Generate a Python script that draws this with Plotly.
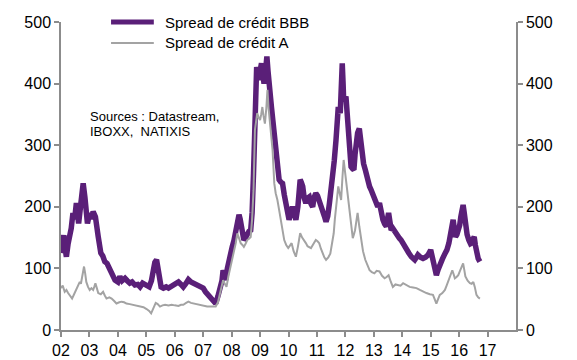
import plotly.graph_objects as go

years_bbb = [2002.00,2002.05,2002.10,2002.15,2002.19,2002.25,2002.30,2002.36,2002.42,2002.48,2002.54,2002.62,2002.70,2002.75,2002.78,2002.84,2002.93,
2003.01,2003.07,2003.13,2003.21,2003.31,2003.40,2003.47,2003.54,2003.62,2003.72,2003.80,2003.90,
2004.00,2004.07,2004.15,2004.25,2004.33,2004.42,2004.50,2004.60,2004.70,2004.78,2004.87,2004.95,
2005.03,2005.10,2005.18,2005.25,2005.30,2005.36,2005.40,2005.45,2005.52,2005.60,2005.70,2005.78,2005.87,2005.95,
2006.05,2006.13,2006.22,2006.30,2006.40,2006.48,2006.57,2006.66,2006.75,2006.84,2006.92,
2007.00,2007.08,2007.16,2007.25,2007.35,2007.44,2007.52,2007.61,2007.66,2007.70,2007.75,2007.79,2007.85,2007.90,2007.96,
2008.02,2008.08,2008.14,2008.20,2008.26,2008.30,2008.34,2008.43,2008.49,2008.55,2008.61,2008.67,2008.72,2008.77,2008.81,2008.85,2008.88,2008.92,2008.96,
2009.00,2009.05,2009.10,2009.14,2009.19,2009.24,2009.28,2009.32,2009.36,2009.40,2009.45,2009.50,2009.55,2009.59,2009.63,2009.67,2009.73,2009.79,2009.85,2009.91,2009.96,
2010.02,2010.08,2010.14,2010.20,2010.26,2010.33,2010.38,2010.41,2010.45,2010.50,2010.55,2010.61,2010.67,2010.73,2010.79,2010.85,2010.90,2010.96,
2011.02,2011.08,2011.14,2011.20,2011.26,2011.32,2011.38,2011.44,2011.50,2011.55,2011.61,2011.67,2011.71,2011.75,2011.82,2011.86,2011.89,2011.92,2011.94,2011.98,
2012.02,2012.05,2012.08,2012.14,2012.20,2012.25,2012.30,2012.34,2012.38,2012.43,2012.49,2012.53,2012.58,2012.64,2012.70,2012.77,2012.85,2012.90,2012.96,
2013.02,2013.08,2013.14,2013.20,2013.26,2013.32,2013.38,2013.44,2013.48,2013.52,2013.57,2013.61,2013.67,2013.73,2013.79,2013.84,2013.90,2013.96,
2014.05,2014.14,2014.23,2014.32,2014.38,2014.44,2014.50,2014.55,2014.64,2014.73,2014.82,2014.91,
2015.00,2015.04,2015.08,2015.14,2015.20,2015.26,2015.32,2015.41,2015.50,2015.57,2015.64,2015.71,2015.75,2015.79,2015.83,2015.87,2015.92,2015.97,
2016.02,2016.06,2016.10,2016.14,2016.18,2016.22,2016.28,2016.34,2016.40,2016.44,2016.49,2016.53,2016.57,2016.61,2016.67,2016.73]

spread_bbb = [125,150,154,130,119,140,149,165,190,180,206,173,206,225,238,216,173,
190,180,192,184,151,125,120,111,108,97,90,81,
78,87,80,84,80,76,78,73,74,70,76,73,
72,70,80,103,110,114,100,78,70,68,70,68,70,73,
76,78,74,70,76,82,78,76,74,73,70,
68,62,58,55,50,43,55,70,80,97,88,81,100,114,120,
135,145,162,170,187,180,168,146,150,157,160,162,190,254,362,400,427,415,406,
420,433,415,400,420,444,420,390,375,362,340,319,300,281,260,244,240,238,220,206,190,
179,190,200,190,179,200,230,244,240,233,215,206,214,216,205,200,215,222,
218,211,205,195,185,176,185,206,225,244,275,308,340,362,352,390,433,400,373,375,
379,360,330,295,265,262,260,285,308,320,327,310,287,270,260,245,233,228,222,
212,206,200,206,190,179,172,168,180,190,175,162,165,160,157,150,149,146,
138,130,125,119,116,114,118,122,118,116,118,122,
130,122,114,100,89,98,108,115,124,130,141,162,172,179,165,151,155,160,
170,184,195,203,190,168,155,146,140,141,148,151,138,124,116,111]

years_a = [2002.00,2002.06,2002.13,2002.19,2002.25,2002.32,2002.39,2002.46,2002.54,2002.60,2002.66,2002.70,2002.74,2002.78,2002.81,2002.85,2002.89,2002.95,
2003.01,2003.07,2003.13,2003.17,2003.21,2003.26,2003.31,2003.40,2003.48,2003.54,2003.60,2003.70,2003.78,2003.87,2003.95,
2004.05,2004.13,2004.22,2004.30,2004.42,2004.54,2004.66,2004.78,2004.90,
2005.01,2005.10,2005.17,2005.24,2005.33,2005.40,2005.48,2005.57,2005.66,2005.78,2005.89,
2006.00,2006.13,2006.22,2006.30,2006.40,2006.48,2006.57,2006.66,2006.78,2006.90,
2007.02,2007.14,2007.30,2007.44,2007.52,2007.59,2007.65,2007.70,2007.76,2007.82,2007.89,2007.96,
2008.02,2008.08,2008.14,2008.20,2008.26,2008.32,2008.38,2008.43,2008.49,2008.55,2008.61,2008.67,2008.72,2008.77,2008.82,2008.86,2008.90,2008.95,
2009.00,2009.04,2009.08,2009.12,2009.17,2009.22,2009.26,2009.30,2009.35,2009.40,2009.44,2009.47,2009.50,2009.55,2009.61,2009.67,2009.73,2009.79,2009.85,2009.92,2009.99,
2010.05,2010.11,2010.18,2010.26,2010.33,2010.41,2010.48,2010.55,2010.61,2010.67,2010.73,2010.79,2010.88,2010.96,
2011.02,2011.08,2011.14,2011.20,2011.26,2011.32,2011.40,2011.47,2011.53,2011.59,2011.63,2011.67,2011.71,2011.75,2011.80,2011.85,2011.90,2011.94,2011.98,
2012.02,2012.08,2012.14,2012.20,2012.26,2012.30,2012.34,2012.39,2012.43,2012.49,2012.55,2012.62,2012.70,2012.77,2012.85,2012.93,
2013.02,2013.10,2013.20,2013.29,2013.38,2013.45,2013.52,2013.60,2013.67,2013.76,2013.85,2013.94,
2014.03,2014.14,2014.26,2014.38,2014.50,2014.62,2014.73,2014.85,2014.97,
2015.08,2015.14,2015.20,2015.26,2015.32,2015.41,2015.50,2015.56,2015.61,2015.68,2015.76,2015.81,2015.85,2015.91,2015.97,
2016.03,2016.08,2016.14,2016.18,2016.22,2016.30,2016.38,2016.44,2016.50,2016.55,2016.61,2016.67,2016.73]

spread_a = [68,72,62,65,60,55,51,58,65,72,78,75,87,95,103,92,78,70,
65,68,65,70,76,68,60,58,62,56,51,53,51,47,43,
45,46,45,43,42,41,40,38,37,
34,31,27,36,44,42,38,40,41,40,41,
40,39,41,41,44,46,44,43,42,41,
40,38,38,38,45,60,70,81,75,70,88,103,
112,124,140,157,150,141,138,135,140,146,148,151,180,227,325,345,352,345,
341,350,362,348,335,360,390,360,335,315,292,265,238,222,211,195,179,160,146,138,133,
137,141,128,119,135,157,150,146,141,136,135,133,140,146,
144,141,132,124,118,114,118,124,140,157,180,200,220,233,222,211,250,276,260,
244,215,190,165,149,155,162,178,190,168,146,128,114,105,97,94,
92,96,95,88,84,86,89,78,70,74,73,72,
76,73,70,69,68,65,62,60,58,
57,50,43,50,57,60,65,72,78,88,97,90,84,86,89,
96,103,108,98,87,80,76,75,78,70,57,53,51]

tick_years = list(range(2002, 2018))
tick_labels = ["%02d" % (y % 100) for y in tick_years]
y_ticks = [0, 100, 200, 300, 400, 500]

names = ["Spread de crédit BBB", "Spread de crédit A"]
purple = "#5a1f78"
gray = "#a3a3a3"
axis_col = "#8c8c8c"
font_fam = "Liberation Sans, Arial, sans-serif"

fig = go.Figure()
fig.add_trace(go.Scatter(x=years_bbb, y=spread_bbb, mode="lines", name=names[0],
                         line=dict(color=purple, width=5.5), yaxis="y", showlegend=False))
fig.add_trace(go.Scatter(x=years_a, y=spread_a, mode="lines", name=names[1],
                         line=dict(color=gray, width=2), yaxis="y2", showlegend=False))

axis_common = dict(range=[0, 500], tickvals=y_ticks, showgrid=False, zeroline=False,
                   showline=True, linecolor=axis_col, linewidth=1.5, automargin=False,
                   ticks="outside", ticklen=5, tickcolor=axis_col, tickwidth=1.5,
                   tickfont=dict(family=font_fam, size=16, color="#000"))

fig.update_layout(
    width=577, height=360,
    margin=dict(l=61, r=61, t=22, b=30),
    paper_bgcolor="white", plot_bgcolor="white",
    xaxis=dict(range=[2002, 2018], tickvals=tick_years, ticktext=tick_labels, automargin=False,
               showgrid=False, zeroline=False, showline=True, linecolor=axis_col, linewidth=1.5,
               ticks="outside", ticklen=5, tickcolor=axis_col, tickwidth=1.5,
               tickfont=dict(family=font_fam, size=16, color="#000")),
    yaxis=dict(side="left", **axis_common),
    yaxis2=dict(side="right", overlaying="y", **axis_common),
)

# legend drawn manually
leg = [(names[0], purple, 5, 1.0), (names[1], gray, 2, 0.932)]
for name, col, w, yy in leg:
    fig.add_shape(type="line", xref="paper", yref="paper", x0=0.110, x1=0.204, y0=yy, y1=yy,
                  line=dict(color=col, width=w))
    fig.add_annotation(text=name, xref="paper", yref="paper", x=0.2242, y=yy,
                       xanchor="left", yanchor="middle", showarrow=False,
                       font=dict(family=font_fam, size=15, color="#000"))

fig.add_annotation(text="Sources : Datastream,", xref="paper", yref="paper", x=0.0593, y=0.6916,
                   xanchor="left", yanchor="middle", showarrow=False,
                   font=dict(family=font_fam, size=13, color="#000"))
fig.add_annotation(text="IBOXX,  NATIXIS", xref="paper", yref="paper", x=0.0593, y=0.646,
                   xanchor="left", yanchor="middle", showarrow=False,
                   font=dict(family=font_fam, size=13, color="#000"))

fig.write_html("out.html")
